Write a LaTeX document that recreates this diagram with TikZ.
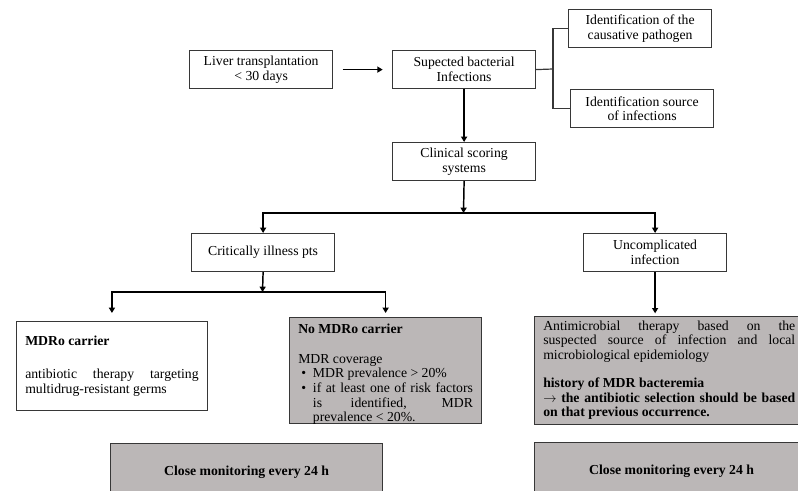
\documentclass[tikz,border=0pt]{standalone}
\usepackage{tikz}
\usepackage{xcolor}
\usepackage{fontspec}
\usepackage{enumitem}
\setmainfont{Liberation Serif}
\usetikzlibrary{arrows.meta}

\definecolor{boxgray}{RGB}{187,183,183}
\definecolor{edgegray}{RGB}{55,55,55}

\newcommand{\boxpar}[3]{\parbox[t][#2][t]{#1}{#3}}

\tikzset{
  box/.style={draw=edgegray, line width=0.9pt, fill=white, anchor=north west, align=center,
    inner sep=2pt, minimum width=107.25pt, minimum height=28.5pt, font=\fontsize{10.3}{11}\selectfont},
  closebox/.style={box, fill=boxgray, minimum width=204pt, minimum height=43.5pt, font=\fontsize{10.3}{11}\selectfont\bfseries},
  textbox/.style={draw=edgegray, line width=0.9pt, anchor=north west, inner xsep=6.5pt, inner ysep=3pt,
    font=\fontsize{10.3}{11}\selectfont},
  arr/.style={line width=1.1pt, -{Triangle[length=4pt,width=4.5pt]}},
  link/.style={draw=edgegray, line width=0.9pt},
}

\begin{document}
\begin{tikzpicture}[x=0.75pt,y=0.75pt,yscale=-1,xscale=1]
\clip (0,0) rectangle (798,491);

% Top row
\node[box] (liver) at (189,50) {Liver transplantation\\ \textless{} 30 days};
\node[box] (susp) at (392,50) {Supected bacterial\\ Infections};
\node[box] (ident1) at (568,9) {Identification of the\\ causative pathogen};
\node[box] (ident2) at (570,89) {Identification source\\ of infections};
\node[box] (clin) at (392,142) {Clinical scoring\\ systems};

% Second level
\node[box] (crit) at (191,233) {Critically illness pts};
\node[box] (uncomp) at (583,233) {Uncomplicated\\ infection};

% Therapy boxes
\node[textbox, fill=white] (mdro) at (16,321) {\boxpar{130pt}{60.75pt}{\vspace*{8pt}%
\textbf{MDRo carrier}\par\vspace{13.5pt}
antibiotic therapy targeting\linebreak multidrug-resistant germs}};
\node[textbox, fill=boxgray] (nomdro) at (289,317) {\boxpar{131pt}{73.5pt}{\vspace*{1.5pt}%
\textbf{No MDRo carrier}\par\vspace{11.5pt}
MDR coverage
\begin{itemize}[nosep, leftmargin=11pt, labelsep=5pt, label=\textbullet]
\item MDR prevalence \textgreater{} 20\%
\item if at least one of risk factors\linebreak is identified, MDR\linebreak prevalence \textless{} 20\%.
\end{itemize}}};
\node[textbox, fill=boxgray] (antimic) at (534,316) {\boxpar{197pt}{75pt}{%
\parbox{189pt}{Antimicrobial therapy based on the\linebreak suspected source of infection and local\linebreak microbiological epidemiology\par\vspace{10pt}
\textbf{history of MDR bacteremia}\par
\textbf{$\rightarrow$ the antibiotic selection should be based\linebreak on that previous occurrence.}}}};

% Monitoring
\node[closebox] (close1) at (110,443) {Close monitoring every 24 h};
\node[closebox, minimum width=205.5pt] (close2) at (534,442) {Close monitoring every 24 h};

% Connectors
\coordinate (br) at (553,69);
\coordinate (split1) at (463.5,213);
\coordinate (split2) at (262.5,292);

\draw[arr, shorten <=7pt, shorten >=7pt] (liver.east) -- (susp.west);
\draw[link] (susp.east) -- (br);
\draw[link] (ident1.west) -| (br) |- (ident2.west);
\draw[arr] (susp.south) -- (clin.north);
\draw[arr] (clin.south) -- (split1);
\draw[arr] (split1) -| (crit.north);
\draw[arr] (split1) -| (uncomp.north);
\draw[arr] (crit.south) -- (split2);
\draw[arr, shorten >=6pt] (split2) -| (mdro.north);
\draw[arr, shorten >=3pt] (split2) -| (nomdro.north);
\draw[arr, shorten >=2pt] (uncomp.south) -- (uncomp.south |- antimic.north);

\end{tikzpicture}
\end{document}
